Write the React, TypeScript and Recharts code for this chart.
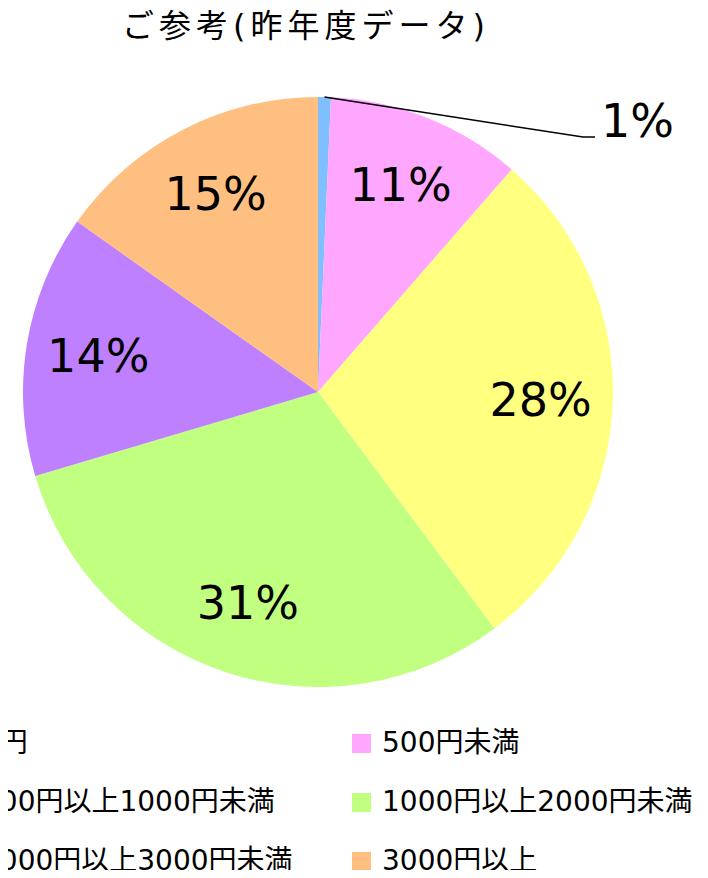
import React from 'react';
import { PieChart, Pie, Cell, Legend } from 'recharts';

const categories = [
  '0円',
  '500円未満',
  '500円以上1000円未満',
  '1000円以上2000円未満',
  '2000円以上3000円未満',
  '3000円以上',
];
const shares = [0.7, 10.7, 28.4, 30.6, 14.4, 15.2];
const colors = ['#80BFFF', '#FFA6FF', '#FFFF80', '#C0FF80', '#BF80FF', '#FFBF80'];

const data = categories.map((name, i) => ({ name, value: shares[i] }));

const FONT = '"DejaVu Sans", "Noto Sans CJK JP", sans-serif';
const RADIAN = Math.PI / 180;

const renderLabel = (props: any) => {
  const { cx, cy, midAngle, outerRadius, value } = props;
  const text = `${Math.round(value)}%`;
  if (value < 2) {
    // small slice: leader line out to the right
    const sx = cx + outerRadius * Math.cos(-midAngle * RADIAN);
    const sy = cy + outerRadius * Math.sin(-midAngle * RADIAN);
    const ex = cx + 265;
    const ey = cy - 255;
    return (
      <g>
        <polyline
          points={`${sx},${sy} ${ex},${ey} ${ex + 12},${ey}`}
          fill="none"
          stroke="#000"
          strokeWidth={1.5}
        />
        <text x={ex + 18} y={ey} fill="#000" fontSize={46} fontFamily={FONT} textAnchor="start">
          {text}
        </text>
      </g>
    );
  }
  const r = outerRadius * 0.755;
  const x = cx + r * Math.cos(-midAngle * RADIAN);
  const y = cy + r * Math.sin(-midAngle * RADIAN);
  return (
    <text x={x} y={y} fill="#000" fontSize={46} fontFamily={FONT} textAnchor="middle" dominantBaseline="central">
      {text}
    </text>
  );
};

// legend in the same order as the data, two columns
const renderLegend = () => (
  <div
    style={{
      display: 'grid',
      gridTemplateColumns: '400px 400px',
      gridAutoRows: '59px',
      fontFamily: FONT,
      fontSize: 28,
      color: '#000',
    }}
  >
    {categories.map((name, i) => (
      <div key={name} style={{ display: 'flex', alignItems: 'center', whiteSpace: 'nowrap' }}>
        <span
          style={{
            display: 'inline-block',
            width: 19,
            height: 19,
            background: colors[i],
            marginRight: 11,
            position: 'relative',
            top: 4,
          }}
        />
        <span>{name}</span>
      </div>
    ))}
  </div>
);

export default function App() {
  return (
    <div style={{ margin: -8, width: 708, height: 878, overflow: 'hidden', position: 'relative', background: '#fff' }}>
      <div
        style={{
          position: 'absolute',
          top: 8,
          left: 0,
          width: 612,
          textAlign: 'center',
          fontFamily: FONT,
          fontSize: 32,
          letterSpacing: 5,
          lineHeight: '36px',
        }}
      >
        ご参考(昨年度データ)
      </div>
      <PieChart width={708} height={878} margin={{ top: 0, right: 0, bottom: 0, left: 0 }}>
        <Pie
          data={data}
          dataKey="value"
          nameKey="name"
          cx={318}
          cy={392}
          outerRadius={295}
          startAngle={90}
          endAngle={-270}
          stroke="none"
          label={renderLabel}
          labelLine={false}
          isAnimationActive={false}
        >
          {data.map((d, i) => (
            <Cell key={d.name} fill={colors[i]} />
          ))}
        </Pie>
        <Legend
          content={renderLegend}
          wrapperStyle={{ position: 'absolute', left: -48, top: 710, width: 800, height: 168, bottom: 'auto' }}
        />
      </PieChart>
    </div>
  );
}
